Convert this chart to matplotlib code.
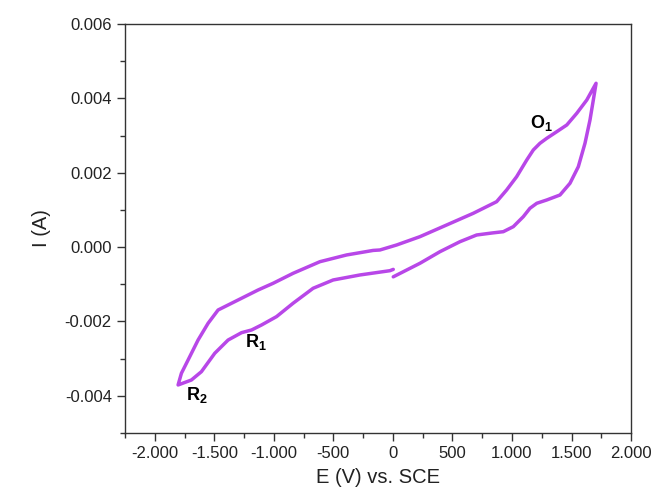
import matplotlib.pyplot as plt
from matplotlib.ticker import MultipleLocator, FuncFormatter

plt.rcParams['font.family'] = ['Liberation Sans', 'DejaVu Sans']
plt.rcParams['mathtext.fontset'] = 'custom'
plt.rcParams['mathtext.rm'] = 'Liberation Sans'
plt.rcParams['mathtext.bf'] = 'Liberation Sans:bold'

# forward sweep 0 -> +1700 mV (lower right branch)
e_fwd = [3, 227, 395, 563, 703, 832, 927, 1011, 1095, 1151, 1208, 1292, 1403,
         1487, 1557, 1613, 1655, 1683, 1706]
i_fwd = [-0.00080, -0.000436, -0.000124, 0.000145, 0.000325, 0.000379, 0.000414,
         0.000549, 0.000818, 0.001044, 0.001178, 0.001267, 0.001401, 0.001716,
         0.002162, 0.002792, 0.003418, 0.003956, 0.004406]

# reverse sweep +1700 -> -1800 mV (upper branch)
e_rev = [1706, 1628, 1544, 1460, 1376, 1292, 1235, 1179, 1124, 1039, 955, 871,
         675, 451, 227, 31, -109, -166, -389, -613, -838, -1006, -1132, -1300,
         -1468, -1552, -1636, -1720, -1776, -1804]
i_rev = [0.004406, 0.003956, 0.003599, 0.003284, 0.003104, 0.002926, 0.002792,
         0.002612, 0.002343, 0.001893, 0.001536, 0.001221, 0.000909, 0.000594,
         0.00028, 0.000056, -0.000078, -0.000090, -0.000212, -0.000393,
         -0.000705, -0.000974, -0.001154, -0.001423, -0.001692, -0.00205,
         -0.002499, -0.003037, -0.003394, -0.003709]

# return sweep -1800 -> 0 mV (lower left branch)
e_ret = [-1804, -1692, -1608, -1496, -1384, -1271, -1187, -1103, -977, -838,
         -670, -502, -277, -25, 3]
i_ret = [-0.003709, -0.003575, -0.003351, -0.002856, -0.0025, -0.002302, -0.00223,
         -0.002095, -0.00187, -0.00151, -0.001108, -0.000885, -0.00075,
         -0.000635, -0.0006]

E = e_fwd + e_rev[1:] + e_ret[1:]
I = i_fwd + i_rev[1:] + i_ret[1:]

fig = plt.figure(figsize=(6.56, 4.95), dpi=100)
ax = fig.add_axes([0.1905, 0.1253, 0.7715, 0.8262])

ax.plot(E, I, color='#B847E8', linewidth=2.5, solid_capstyle='round',
        solid_joinstyle='round')

ax.set_xlim(-2250, 2000)
ax.set_ylim(-0.005, 0.006)
ax.xaxis.set_major_locator(MultipleLocator(500))
ax.xaxis.set_minor_locator(MultipleLocator(250))
ax.yaxis.set_major_locator(MultipleLocator(0.002))
ax.yaxis.set_minor_locator(MultipleLocator(0.001))


def eu_fmt(v, pos):
    return '{:,.0f}'.format(v).replace(',', '.')


ax.xaxis.set_major_formatter(FuncFormatter(eu_fmt))
ax.yaxis.set_major_formatter(FuncFormatter(lambda v, p: '{:.3f}'.format(v)))

ax.tick_params(which='both', direction='out', labelsize=12, color='#333333',
               labelcolor='#222222')
ax.tick_params(which='major', length=6, width=1)
ax.tick_params(which='minor', length=3.5, width=1)
for s in ax.spines.values():
    s.set_color('#333333')
    s.set_linewidth(1)

ax.set_xlabel('E (V) vs. SCE', fontsize=14.5, color='#222222', labelpad=5)
ax.set_ylabel('I (A)', fontsize=14.5, color='#222222', labelpad=10)

ax.text(1150, 0.0032, r'$\mathbf{O}_\mathbf{1}$', fontsize=13)
ax.text(-1240, -0.0027, r'$\mathbf{R}_\mathbf{1}$', fontsize=13)
ax.text(-1740, -0.0041, r'$\mathbf{R}_\mathbf{2}$', fontsize=13)

fig.savefig('out.png', dpi=100)
